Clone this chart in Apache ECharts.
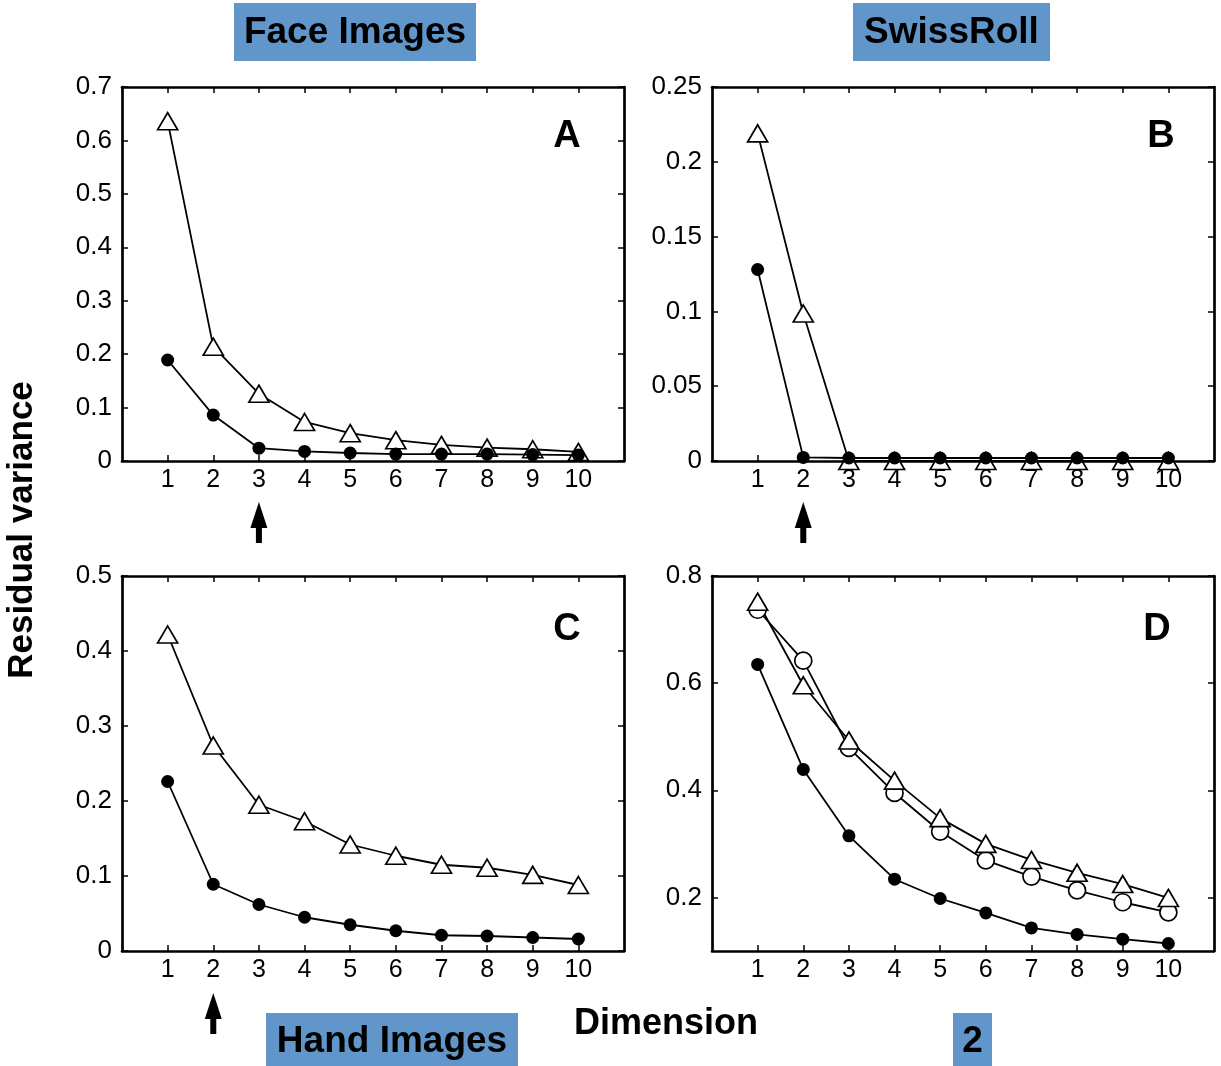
<!DOCTYPE html>
<html><head><meta charset="utf-8">
<script src="https://cdn.jsdelivr.net/npm/echarts@6/dist/echarts.min.js"></script>
<style>html,body{margin:0;padding:0;background:#fff}#c{width:1221px;height:1066px}</style>
</head><body><div id="c"></div>
<script>
const dims = [1,2,3,4,5,6,7,8,9,10];
// Panel A: Face Images
const faceTri = [0.636,0.214,0.126,0.073,0.052,0.039,0.030,0.025,0.022,0.017];
const faceDot = [0.189,0.086,0.024,0.018,0.015,0.013,0.013,0.013,0.012,0.011];
// Panel B: SwissRoll
const swissTri = [0.219,0.0986,0.0,0.0,0.0,0.0,0.0,0.0,0.0,0.0];
const swissDot = [0.128,0.0024,0.002,0.002,0.002,0.002,0.002,0.002,0.002,0.002];
// Panel C: Hand Images
const handTri = [0.422,0.274,0.195,0.173,0.142,0.127,0.115,0.111,0.1015,0.088];
const handDot = [0.226,0.089,0.062,0.045,0.035,0.027,0.021,0.020,0.018,0.016];
// Panel D
const dTri = [0.752,0.596,0.493,0.418,0.348,0.300,0.270,0.246,0.225,0.199];
const dCirc = [0.737,0.642,0.479,0.395,0.323,0.269,0.239,0.213,0.191,0.172];
const dDot = [0.635,0.439,0.315,0.234,0.198,0.171,0.143,0.131,0.122,0.114];
// y tick labels
const yTicksA = [0,0.1,0.2,0.3,0.4,0.5,0.6,0.7];
const yTicksB = [0,0.05,0.1,0.15,0.2,0.25];
const yTicksC = [0,0.1,0.2,0.3,0.4,0.5];
const yTicksD = [0.2,0.4,0.6,0.8];
const panelLetters = ['A','B','C','D'];
const titles = ['Face Images','SwissRoll','Hand Images','2'];
const arrowDims = [3,2,2]; // panels A,B,C

const grids = [
  {left:122, top:87, width:502, height:374},
  {left:712, top:87, width:502, height:374},
  {left:122, top:576, width:502, height:375},
  {left:712, top:576, width:502, height:375}
];
const yCfg = [
  {min:0, max:0.7, ticks:yTicksA},
  {min:0, max:0.25, ticks:yTicksB},
  {min:0, max:0.5, ticks:yTicksC},
  {min:0.1, max:0.8, ticks:yTicksD}
];
const FONT = '"Liberation Sans", Arial, sans-serif';
const lineC = '#000';

const xAxes = [], yAxes = [], series = [];
grids.forEach((g, i) => {
  const tickVals = dims.slice();
  xAxes.push({
    gridIndex:i, type:'value', min:0, max:11, interval:1, position:'bottom',
    axisLine:{show:true, onZero:false, lineStyle:{color:lineC, width:2.7}},
    axisTick:{show:true, inside:true, length:6, lineStyle:{color:lineC, width:1.5}, customValues:tickVals},
    axisLabel:{show:true, customValues:tickVals, color:'#000', fontSize:25, fontFamily:FONT, margin:7},
    splitLine:{show:false}
  });
  xAxes.push({
    gridIndex:i, type:'value', min:0, max:11, interval:1, position:'top',
    axisLine:{show:true, onZero:false, lineStyle:{color:lineC, width:2.7}},
    axisTick:{show:true, inside:true, length:6, lineStyle:{color:lineC, width:1.5}, customValues:tickVals},
    axisLabel:{show:false}, splitLine:{show:false}
  });
  const yc = yCfg[i];
  yAxes.push({
    gridIndex:i, type:'value', min:yc.min, max:yc.max, position:'left',
    axisLine:{show:true, onZero:false, lineStyle:{color:lineC, width:2.7}},
    axisTick:{show:true, inside:true, length:6, lineStyle:{color:lineC, width:1.5}, customValues:yc.ticks},
    axisLabel:{show:true, customValues:yc.ticks, color:'#000', fontSize:26, fontFamily:FONT, margin:10,
      formatter:v => String(+v.toFixed(3))},
    splitLine:{show:false}
  });
  yAxes.push({
    gridIndex:i, type:'value', min:yc.min, max:yc.max, position:'right',
    axisLine:{show:true, onZero:false, lineStyle:{color:lineC, width:2.7}},
    axisTick:{show:true, inside:true, length:6, lineStyle:{color:lineC, width:1.5}, customValues:yc.ticks},
    axisLabel:{show:false}, splitLine:{show:false}
  });
});

function pairs(arr){ return arr.map((v,k)=>[dims[k], v]); }
function dotSeries(i, arr){
  return {type:'line', xAxisIndex:2*i, yAxisIndex:2*i, data:pairs(arr), symbol:'circle', symbolSize:13,
    itemStyle:{color:'#000', borderColor:'#000', borderWidth:0}, lineStyle:{color:'#000', width:1.8},
    showAllSymbol:true, animation:false, clip:false, z:3};
}
function triSeries(i, arr, z){
  return {type:'line', xAxisIndex:2*i, yAxisIndex:2*i, data:pairs(arr), symbol:'triangle', symbolSize:[20,17],
    itemStyle:{color:'#fff', borderColor:'#000', borderWidth:1.7}, lineStyle:{color:'#000', width:1.8},
    showAllSymbol:true, animation:false, clip:false, z:z||2};
}
function circSeries(i, arr){
  return {type:'line', xAxisIndex:2*i, yAxisIndex:2*i, data:pairs(arr), symbol:'circle', symbolSize:17,
    itemStyle:{color:'#fff', borderColor:'#000', borderWidth:1.7}, lineStyle:{color:'#000', width:1.8},
    showAllSymbol:true, animation:false, clip:false, z:2};
}
series.push(triSeries(0, faceTri), dotSeries(0, faceDot));
series.push(triSeries(1, swissTri, 2), dotSeries(1, swissDot));
series.push(triSeries(2, handTri), dotSeries(2, handDot));
series.push(circSeries(3, dCirc), triSeries(3, dTri, 2), dotSeries(3, dDot));

const boxColor = '#6196ca';
const graphics = [];
function titleBox(text, x, y, w, h, cy){
  graphics.push({type:'group', left:x, top:y, children:[
    {type:'rect', shape:{x:0,y:0,width:w,height:h}, style:{fill:boxColor}},
    {type:'text', x:w/2, y:cy, style:{text:text, fill:'#000', font:'bold 37px '+FONT, align:'center', verticalAlign:'middle'}}
  ]});
}
titleBox(titles[0], 234, 3, 242, 58, 30);
titleBox(titles[1], 853, 3, 197, 58, 30);
titleBox(titles[2], 266, 1013, 252, 53, 29);
titleBox(titles[3], 953, 1013, 39, 53, 29);

// panel letters
const letterPos = [[567,137],[1161,137],[567,630],[1157,630]];
letterPos.forEach((p,i)=>{
  graphics.push({type:'text', x:p[0], y:p[1], style:{text:panelLetters[i], fill:'#000', font:'bold 38px '+FONT, align:'center', verticalAlign:'middle'}});
});
graphics.push({type:'text', x:666, y:1024, style:{text:'Dimension', fill:'#000', font:'bold 36px '+FONT, align:'center', verticalAlign:'middle'}});
graphics.push({type:'text', x:22, y:530, rotation:Math.PI/2, style:{text:'Residual variance', fill:'#000', font:'bold 35px '+FONT, align:'center', verticalAlign:'middle'}});

const chart = echarts.init(document.getElementById('c'), null, {renderer:'canvas'});
chart.setOption({
  animation:false,
  grid:grids,
  xAxis:xAxes,
  yAxis:yAxes,
  series:series,
  graphic:graphics
});

// arrows under the chosen dimension (panels A,B,C)
const arrowTop = [502, 502, 993];
const extra = [];
arrowDims.forEach((d,i)=>{
  const px = chart.convertToPixel({xAxisIndex:2*i}, d);
  const t = arrowTop[i];
  extra.push({type:'polygon', shape:{points:[[px,t],[px-8.5,t+26],[px+8.5,t+26]]}, style:{fill:'#000'}});
  extra.push({type:'rect', shape:{x:px-3, y:t+24, width:6, height:17}, style:{fill:'#000'}});
});
chart.setOption({graphic:graphics.concat(extra)});
</script></body></html>
